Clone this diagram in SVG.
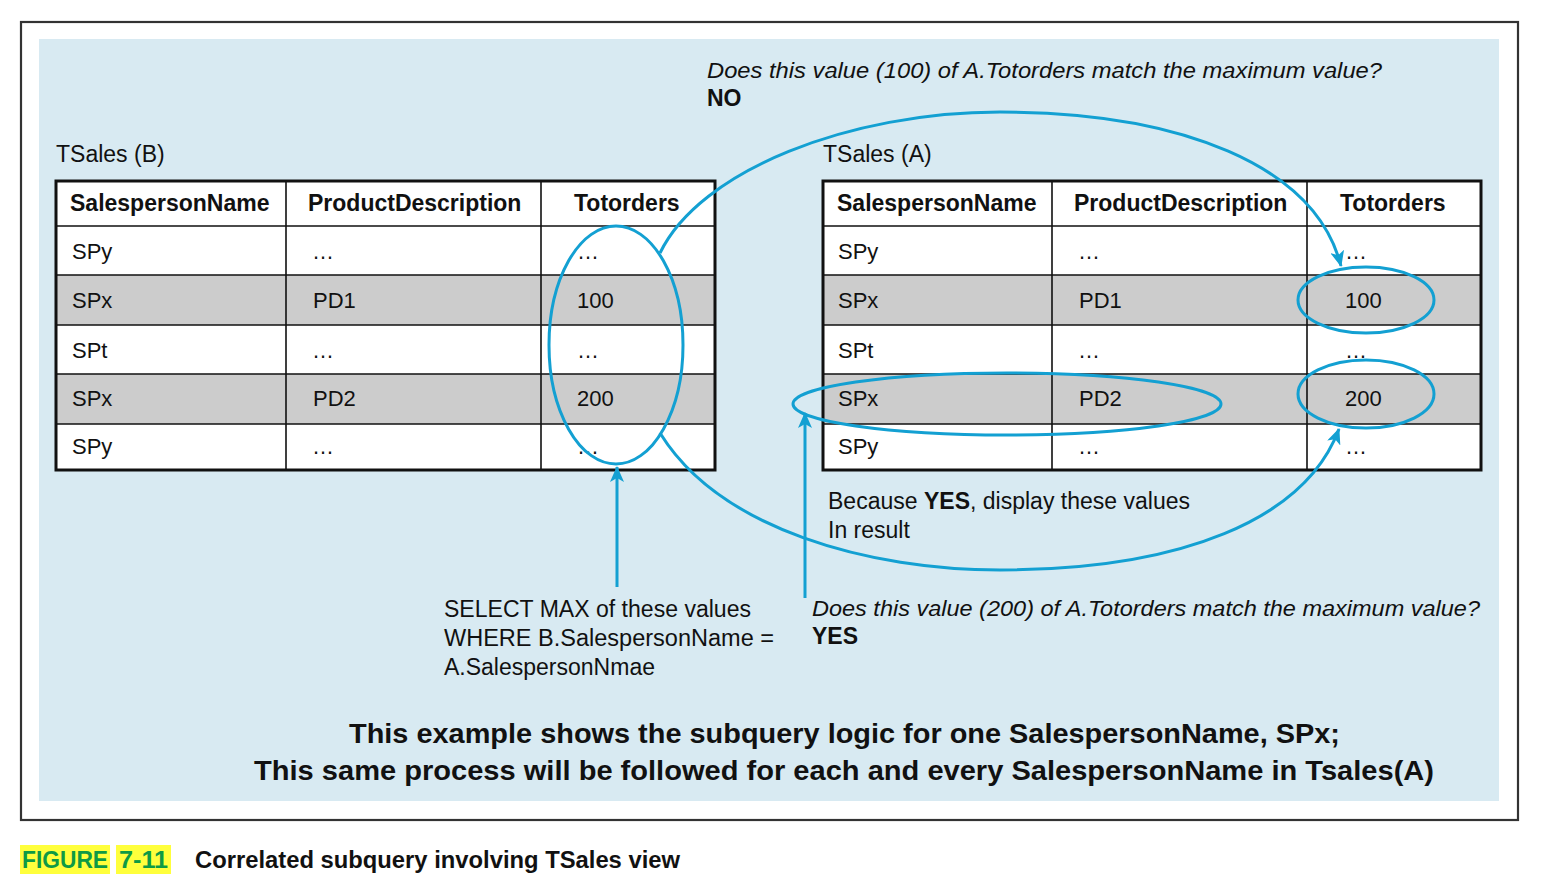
<svg xmlns="http://www.w3.org/2000/svg" width="1546" height="882" viewBox="0 0 1546 882">
<defs>
<style>
.t{font-family:"Liberation Sans",Arial,sans-serif;fill:#111}
.h{font-size:23px;font-weight:bold}
.c{font-size:22px}
.lb{font-size:23px}
.it{font-size:22.5px;font-style:italic}
.bd{font-weight:bold}
.grid{stroke:#111;stroke-width:1.6;fill:none}
.outer{stroke:#111;stroke-width:3;fill:none}
.gray{fill:#cccccc}
.white{fill:#ffffff}
.blue{stroke:#13a0d2;stroke-width:3;fill:none}
</style>
<marker id="ah" viewBox="0 0 16 14" refX="15" refY="7" markerWidth="16" markerHeight="14" markerUnits="userSpaceOnUse" orient="auto">
<path d="M0,0 L16,7 L0,14 L4,7 Z" fill="#13a0d2"/>
</marker>
</defs>
<rect x="0" y="0" width="1546" height="882" fill="#ffffff"/>
<rect x="21" y="22" width="1497" height="798" fill="#ffffff" stroke="#333" stroke-width="2.2"/>
<rect x="39" y="39" width="1460" height="762" fill="#d8eaf2"/>

<g id="tableB">
<text class="t lb" x="56" y="162">TSales (B)</text>
<rect class="white" x="56" y="181" width="659" height="289"/>
<rect class="gray" x="56" y="275" width="659" height="50"/>
<rect class="gray" x="56" y="374" width="659" height="50"/>
<path class="grid" d="M56,226H715M56,275H715M56,325H715M56,374H715M56,424H715M286,181V470M541,181V470"/>
<rect class="outer" x="56" y="181" width="659" height="289"/>
<text class="t h bd" x="70" y="211">SalespersonName</text>
<text class="t h bd" x="308" y="211">ProductDescription</text>
<text class="t h bd" x="574" y="211">Totorders</text>
<text class="t c" x="72" y="259">SPy</text><text class="t c" x="312" y="259">…</text><text class="t c" x="577" y="259">…</text>
<text class="t c" x="72" y="308">SPx</text><text class="t c" x="313" y="308">PD1</text><text class="t c" x="577" y="308">100</text>
<text class="t c" x="72" y="358">SPt</text><text class="t c" x="312" y="358">…</text><text class="t c" x="577" y="358">…</text>
<text class="t c" x="72" y="406">SPx</text><text class="t c" x="313" y="406">PD2</text><text class="t c" x="577" y="406">200</text>
<text class="t c" x="72" y="454">SPy</text><text class="t c" x="312" y="454">…</text><text class="t c" x="577" y="454">…</text>
</g>

<g id="tableA">
<text class="t lb" x="823" y="162">TSales (A)</text>
<rect class="white" x="823" y="181" width="658" height="289"/>
<rect class="gray" x="823" y="275" width="658" height="50"/>
<rect class="gray" x="823" y="374" width="658" height="50"/>
<path class="grid" d="M823,226H1481M823,275H1481M823,325H1481M823,374H1481M823,424H1481M1052,181V470M1307,181V470"/>
<rect class="outer" x="823" y="181" width="658" height="289"/>
<text class="t h bd" x="837" y="211">SalespersonName</text>
<text class="t h bd" x="1074" y="211">ProductDescription</text>
<text class="t h bd" x="1340" y="211">Totorders</text>
<text class="t c" x="838" y="259">SPy</text><text class="t c" x="1078" y="259">…</text><text class="t c" x="1345" y="259">…</text>
<text class="t c" x="838" y="308">SPx</text><text class="t c" x="1079" y="308">PD1</text><text class="t c" x="1345" y="308">100</text>
<text class="t c" x="838" y="358">SPt</text><text class="t c" x="1078" y="358">…</text><text class="t c" x="1345" y="358">…</text>
<text class="t c" x="838" y="406">SPx</text><text class="t c" x="1079" y="406">PD2</text><text class="t c" x="1345" y="406">200</text>
<text class="t c" x="838" y="454">SPy</text><text class="t c" x="1078" y="454">…</text><text class="t c" x="1345" y="454">…</text>
</g>

<g id="highlights">
<ellipse class="blue" cx="616" cy="345" rx="67" ry="119"/>
<ellipse class="blue" cx="1366" cy="300" rx="68" ry="33"/>
<ellipse class="blue" cx="1366" cy="394" rx="68" ry="34"/>
<ellipse class="blue" cx="1007" cy="404" rx="214" ry="31"/>
</g>

<g id="connectors">
<path class="blue" d="M660,253 C700,170 850,112 1000,112 C1180,112 1315,165 1341,266" marker-end="url(#ah)"/>
<path class="blue" d="M660,433 C720,530 870,570 1000,570 C1180,570 1305,520 1339,429" marker-end="url(#ah)"/>
<path class="blue" d="M617,587 V467" marker-end="url(#ah)"/>
<path class="blue" d="M805,598 V413" marker-end="url(#ah)"/>
</g>

<g id="labels">
<text class="t it" x="707" y="78" textLength="675" lengthAdjust="spacingAndGlyphs">Does this value (100) of A.Totorders match the maximum value?</text>
<text class="t lb bd" x="707" y="106">NO</text>
<text class="t lb" x="828" y="509" textLength="362" lengthAdjust="spacingAndGlyphs">Because <tspan class="bd">YES</tspan>, display these values</text>
<text class="t lb" x="828" y="538">In result</text>
<text class="t lb" x="444" y="617" textLength="307" lengthAdjust="spacingAndGlyphs">SELECT MAX of these values</text>
<text class="t lb" x="444" y="646" textLength="330" lengthAdjust="spacingAndGlyphs">WHERE B.SalespersonName =</text>
<text class="t lb" x="444" y="675" textLength="211" lengthAdjust="spacingAndGlyphs">A.SalespersonNmae</text>
<text class="t it" x="812" y="616" textLength="668" lengthAdjust="spacingAndGlyphs">Does this value (200) of A.Totorders match the maximum value?</text>
<text class="t lb bd" x="812" y="644">YES</text>
<text class="t bd" x="349" y="743" font-size="27" textLength="991" lengthAdjust="spacingAndGlyphs">This example shows the subquery logic for one SalespersonName, SPx;</text>
<text class="t bd" x="254" y="780" font-size="27" textLength="1180" lengthAdjust="spacingAndGlyphs">This same process will be followed for each and every SalespersonName in Tsales(A)</text>
</g>

<g id="caption">
<rect x="20" y="845" width="90" height="29" fill="#ffff3c"/>
<rect x="116" y="845" width="55" height="29" fill="#ffff3c"/>
<text class="bd" x="22" y="868" font-family="'Liberation Sans',Arial,sans-serif" font-size="23" fill="#0e9a45" textLength="86" lengthAdjust="spacingAndGlyphs">FIGURE</text>
<text class="bd" x="119" y="868" font-family="'Liberation Sans',Arial,sans-serif" font-size="23" fill="#0e9a45" textLength="49" lengthAdjust="spacingAndGlyphs">7-11</text>
<text class="t bd" x="195" y="868" font-size="23" textLength="485" lengthAdjust="spacingAndGlyphs">Correlated subquery involving TSales view</text>
</g>
</svg>
